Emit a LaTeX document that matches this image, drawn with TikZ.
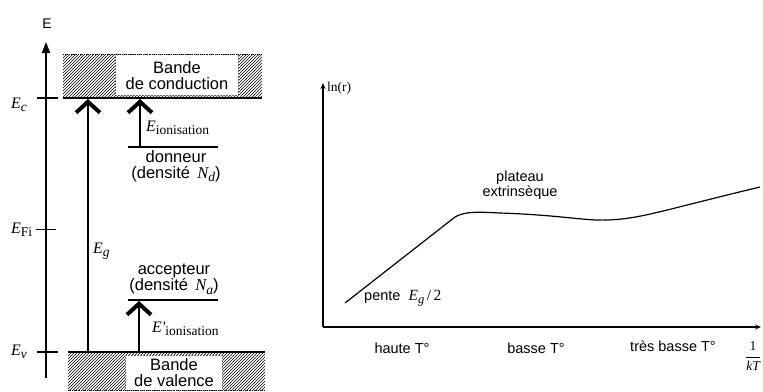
\documentclass[tikz,border=0pt]{standalone}
\usepackage{fontspec}
\setmainfont{Liberation Sans}
\newfontfamily\tms{Liberation Serif}
\usetikzlibrary{patterns,arrows.meta}
\newcommand\Esub[2][E]{{\tms\itshape #1}\raisebox{-0.22em}{\tms\fontsize{13.5}{14}\selectfont #2}}
\tikzset{
  lbl/.style={font=\fontsize{16.5}{16}\selectfont, align=center, inner sep=0pt},
  rlbl/.style={font=\fontsize{14.5}{15.5}\selectfont, align=center, inner sep=0pt},
  mlbl/.style={font=\tms\fontsize{16}{16}\selectfont, inner sep=0pt},
  level/.style={line width=2pt},
  bandedge/.style={line width=2.6pt},
  tickthick/.style={line width=2.2pt},
  tickthin/.style={line width=0.9pt},
  hatch/.style={pattern=north east lines},
  gapbox/.style={fill=white, draw=black!60, densely dotted, line width=0.5pt},
  chev/.style={line width=2.2pt, -{Straight Barb[length=11pt,width=24pt,line width=4pt]}},
  eaxis/.style={line width=1.8pt, -{Triangle[length=11pt,width=8pt]}},
  axis/.style={line width=1.4pt, -{Stealth[length=6pt,width=5pt]}},
  curve/.style={line width=1.2pt}
}
\begin{document}
\begin{tikzpicture}[x=1pt,y=-1pt]
\useasboundingbox (0,0) rectangle (763,391);
% ---------- left: band diagram ----------
% conduction band
\fill[hatch] (63,54) rectangle (262,97);
\draw[gapbox] (115,54) rectangle (238,95);
\draw[densely dotted, line width=0.9pt] (63,54) -- (262,54);
\node[lbl] (bc) at (177,76) {Bande\\de conduction};
% valence band
\fill[hatch] (68,353) rectangle (265,390);
\draw[gapbox] (125,355) rectangle (222,390);
\draw[densely dotted, line width=0.9pt] (68,390) -- (265,390);
\node[lbl] (bv) at (174,373) {Bande\\de valence};
% level coordinates
\coordinate (ecL) at (63,98);  \coordinate (ecR) at (262,98);
\coordinate (evL) at (68,352); \coordinate (evR) at (265,352);
\coordinate (dL) at (128,147); \coordinate (dR) at (218,147);
\coordinate (aL) at (128,300); \coordinate (aR) at (218,300);
\draw[bandedge] (ecL) -- (ecR);
\draw[bandedge] (evL) -- (evR);
\draw[level] (dL) -- (dR);
\draw[level] (aL) -- (aR);
% energy axis
\coordinate (ebot) at (46,378);
\coordinate (etop) at (46,42);
\draw[eaxis] (ebot) -- (etop);
\node[font=\fontsize{14}{14}\selectfont, inner sep=0pt, anchor=base] (Elab) at (47,28) {E};
\coordinate (tc1) at (37,98);  \coordinate (tc2) at (58,98);
\coordinate (tf1) at (36,229); \coordinate (tf2) at (56,229);
\coordinate (tv1) at (37,352); \coordinate (tv2) at (58,352);
\draw[tickthick] (tc1) -- (tc2);
\draw[tickthin] (tf1) -- (tf2);
\draw[tickthick] (tv1) -- (tv2);
\node[mlbl, anchor=base west] (Ec) at (11,108) {\Esub{\itshape c}};
\node[mlbl, anchor=base west] (EFi) at (11,233) {\Esub{Fi}};
\node[mlbl, anchor=base west] (Ev) at (11,355) {\Esub{\itshape v}};
% gap arrow
\coordinate (gv) at (88,352); \coordinate (gc) at (88,99);
\draw[chev] (gv) -- (gc);
\node[mlbl, anchor=base west] (Eg) at (93,253) {\Esub{\itshape g}};
% donor ionisation
\coordinate (d0) at (140,147); \coordinate (d1) at (140,99);
\draw[chev] (d0) -- (d1);
\node[mlbl, anchor=base west] (Eion) at (146,131) {\Esub{ionisation}};
\node[lbl] (don) at (176,166) {donneur\\(densit\'e\, {\tms\itshape N}\raisebox{-0.22em}{\tms\itshape\fontsize{13.5}{14}\selectfont d})};
% acceptor ionisation
\coordinate (a0) at (139,352); \coordinate (a1) at (139,301);
\draw[chev] (a0) -- (a1);
\node[mlbl, anchor=base west] (Eion2) at (152,332) {\Esub[E\textquotesingle]{ionisation}};
\node[lbl] (acc) at (174,279) {accepteur\\(densit\'e\, {\tms\itshape N}\raisebox{-0.22em}{\tms\itshape\fontsize{13.5}{14}\selectfont a})};
% ---------- right: ln(r) vs 1/kT ----------
\coordinate (O) at (323,327);
\coordinate (ytop) at (323,83);
\coordinate (xend) at (761,327);
\draw[axis] (O) -- (ytop);
\draw[axis] (O) -- (xend);
\node[font=\tms\fontsize{13.5}{14}\selectfont, inner sep=0pt, anchor=base west] (lnr) at (327,91) {ln(r)};
\node[rlbl] (ht) at (402,348) {haute T\textdegree};
\node[rlbl] (bt) at (536,348) {basse T\textdegree};
\node[rlbl] (tbt) at (673,346) {tr\`es basse T\textdegree};
\node[font=\tms\fontsize{13.5}{14}\selectfont, inner sep=0pt] (frac) at (753,356)
  {$\displaystyle\frac{\mbox{\tms\fontsize{13.5}{14}\selectfont 1}}{\mbox{\tms\itshape\fontsize{13.5}{14}\selectfont kT}}$};
\node[rlbl] (plat) at (520,185) {plateau\\extrins\`eque};
\node[rlbl, anchor=base west] (pente) at (364,300) {pente\ \ {\tms\fontsize{15.5}{16}\selectfont\itshape E\raisebox{-0.22em}{\fontsize{12.5}{13}\selectfont g}\upshape\,/\,2}};
\coordinate (c0) at (345,303);
\coordinate (c1) at (455,217);
\coordinate (c2) at (500,213);
\coordinate (c3) at (607,220);
\coordinate (c4) at (760,187);
\draw[curve, line join=round] (c0) -- (c1) .. controls (465,211) and (480,212) .. (c2)
  .. controls (560,215) and (585,221) .. (c3)
  .. controls (640,219) and (660,211) .. (c4);
\end{tikzpicture}
\end{document}
